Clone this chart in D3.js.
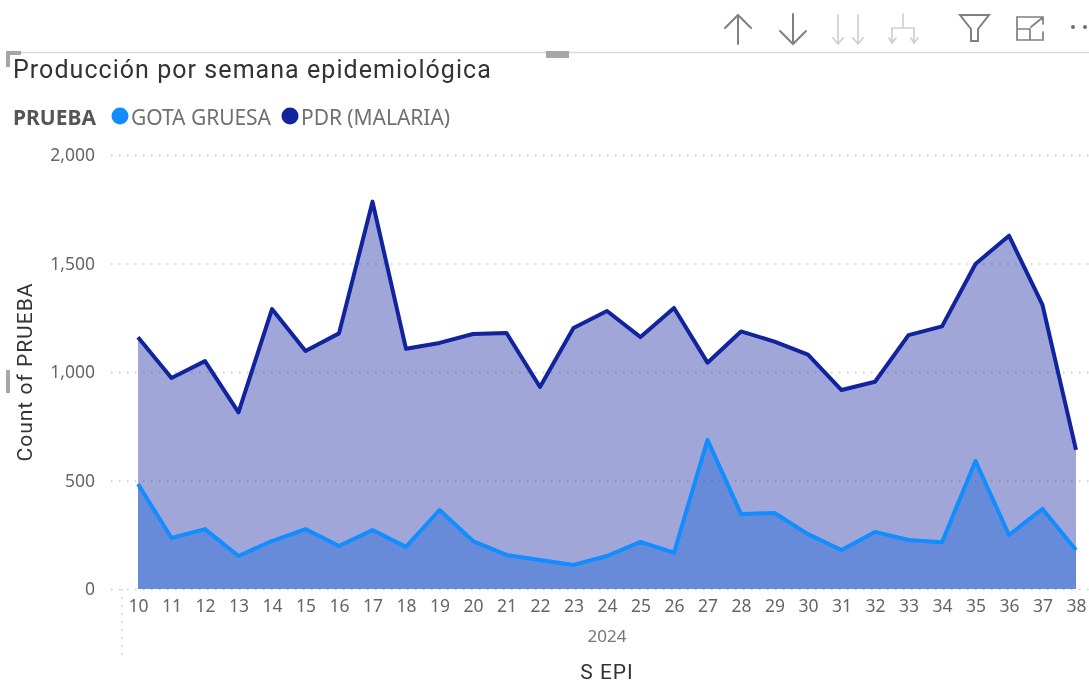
<!DOCTYPE html>
<html><head><meta charset="utf-8">
<script src="https://cdnjs.cloudflare.com/ajax/libs/d3/7.8.5/d3.min.js"></script>
<style>html,body{margin:0;padding:0;background:#fff;overflow:hidden}svg{display:block;filter:blur(0.35px)}</style>
</head><body><svg id="c" width="1089" height="684"></svg>
<script>
const weeks=[10,11,12,13,14,15,16,17,18,19,20,21,22,23,24,25,26,27,28,29,30,31,32,33,34,35,36,37,38];
const pdr=[1160,972,1050,814,1290,1097,1178,1785,1107,1134,1175,1180,931,1203,1281,1161,1295,1043,1187,1140,1080,917,955,1170,1210,1498,1628,1309,641];
const gota=[484,235,276,152,221,276,198,272,194,364,221,157,134,111,152,217,167,687,346,350,253,180,263,226,215,590,249,369,180];
const yTicks=[0,500,1000,1500,2000];
const legendItems=["GOTA GRUESA","PDR (MALARIA)"];
const colors=["#118DFF","#12239E"];
const svg=d3.select("#c");
const x=d3.scalePoint().domain(weeks).range([138,1076]);
const y=d3.scaleLinear().domain([0,2000]).range([589,155]);
const label='"Noto Sans",sans-serif';
const din='Roboto,sans-serif';

// toolbar
const ic=svg.append("g").attr("fill","none").attr("stroke-linecap","round");
const dark="#808080",faint="#cfcfcf";
[["M738 44V15M725 28L738 15L751 28",dark,2],["M793 44V14M780 31L793 44L806 31",dark,2],
 ["M838 44V15M833 38L838 44L843 38M858 44V15M853 38L858 44L863 38",faint,1.7],
 ["M903 14V28M892 42V28H914V42M889 38L892 43L896 38M911 38L914 43L918 38",faint,1.7],
 ["M960 15H989L978 29V41H971V29Z",dark,2],
 ["M1043 22V17H1017V40H1043V32M1017 29H1030V40M1031 27L1042 18M1035 17H1043V24",dark,1.7]
].forEach(d=>ic.append("path").attr("d",d[0]).attr("stroke",d[1]).attr("stroke-width",d[2]));
ic.selectAll("circle.m").data([1073,1085]).join("circle").attr("cx",d=>d).attr("cy",27).attr("r",2).attr("fill","#707070").attr("stroke","none");

// frame
svg.append("line").attr("x1",6).attr("x2",1089).attr("y1",52.5).attr("y2",52.5).attr("stroke","#d9d9d9").attr("stroke-width",1.5);
svg.append("path").attr("d","M6 51H21V55H10V67H6Z").attr("fill","#a6a6a6");
svg.append("rect").attr("x",546).attr("y",51).attr("width",23).attr("height",7).attr("fill","#a6a6a6");
svg.append("rect").attr("x",6).attr("y",370).attr("width",4).attr("height",23).attr("fill","#a6a6a6");

// title + legend
svg.append("text").attr("x",13).attr("y",78).attr("font-family",din).attr("font-size",25).attr("letter-spacing",1.05).attr("fill","#333").text("Producción por semana epidemiológica");
svg.append("text").attr("x",13).attr("y",125).attr("font-family",label).attr("font-weight",700).attr("font-size",21).attr("fill","#555").text("PRUEBA");
const lx=[120,290];
legendItems.forEach((t,i)=>{
  svg.append("circle").attr("cx",lx[i]).attr("cy",116).attr("r",8.5).attr("fill",colors[i]);
  svg.append("text").attr("x",lx[i]+11).attr("y",125).attr("font-family",label).attr("font-size",21).attr("letter-spacing",-0.05).attr("fill","#707070").text(t);
});

// grid + axes
const gy=svg.append("g").call(d3.axisLeft(y).tickValues(yTicks).tickFormat(d3.format(",")).tickSize(0));
gy.select(".domain").remove();
gy.selectAll("text").attr("x",95).attr("text-anchor","end").attr("font-family",label).attr("font-size",17.5).attr("fill","#666");
gy.selectAll("line").attr("x1",111).attr("x2",1089).attr("stroke","#c8c8c8").attr("stroke-width",1.5).attr("stroke-dasharray","1.5 6.5");
svg.append("line").attr("x1",122).attr("x2",122).attr("y1",589).attr("y2",655).attr("stroke","#c8c8c8").attr("stroke-width",1.5).attr("stroke-dasharray","1.5 6.5");

// areas
const area=v=>d3.area().x((d,i)=>x(weeks[i])).y0(y(0)).y1(d=>y(d))(v);
const line=v=>d3.line().x((d,i)=>x(weeks[i])).y(d=>y(d))(v);
svg.append("path").attr("d",area(gota)).attr("fill",colors[0]).attr("fill-opacity",0.4);
svg.append("path").attr("d",area(pdr)).attr("fill",colors[1]).attr("fill-opacity",0.4);
[[pdr,colors[1]],[gota,colors[0]]].forEach(([v,c])=>svg.append("path").attr("d",line(v)).attr("fill","none").attr("stroke",c).attr("stroke-width",4).attr("stroke-linejoin","round"));

// x axis
const gx=svg.append("g").attr("transform","translate(0,589)").call(d3.axisBottom(x).tickSize(0));
gx.select(".domain").remove();
gx.selectAll("text").attr("y",11).attr("dy","0.71em").attr("font-family",label).attr("font-size",17.5).attr("fill","#666");
svg.append("text").attr("x",607).attr("y",642).attr("text-anchor","middle").attr("font-family",label).attr("font-size",17).attr("fill","#777").text("2024");
svg.append("text").attr("x",607).attr("y",679).attr("text-anchor","middle").attr("font-family",din).attr("font-size",21).attr("letter-spacing",1).attr("fill","#333").text("S EPI");
svg.append("text").attr("transform","translate(32,372) rotate(-90)").attr("text-anchor","middle").attr("font-family",din).attr("font-size",21).attr("letter-spacing",1).attr("fill","#333").text("Count of PRUEBA");
</script></body></html>
